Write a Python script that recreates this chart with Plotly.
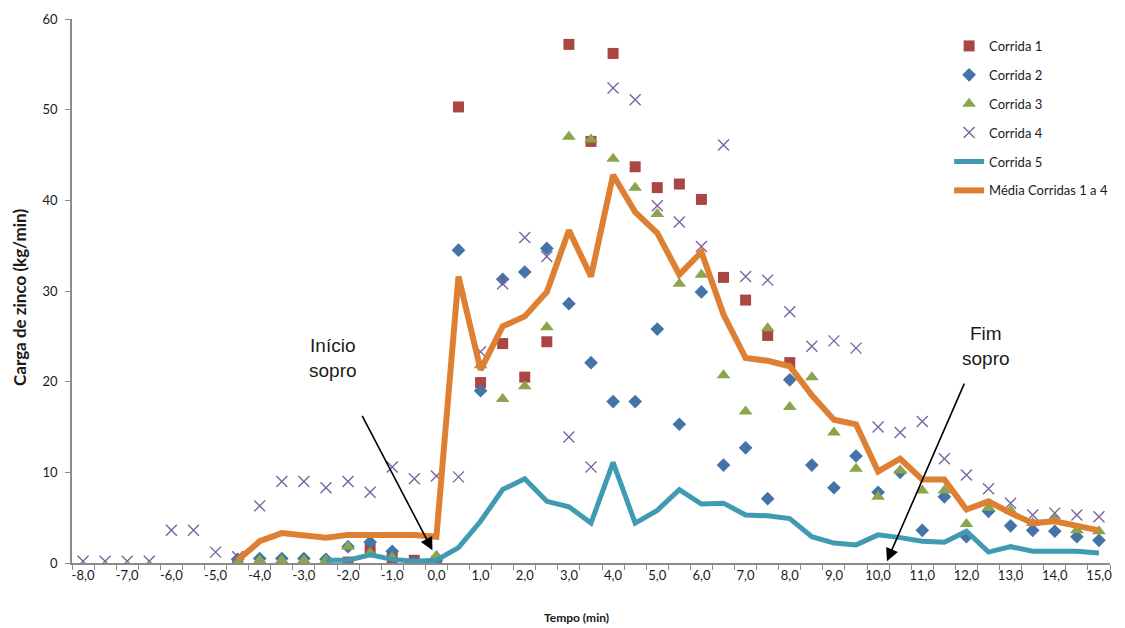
import plotly.graph_objects as go

# ---- data ----
t_c1 = [-2.0, -1.5, -1.0, -0.5, 0.0, 0.5, 1.0, 1.5, 2.0, 2.5, 3.0, 3.5, 4.0, 4.5, 5.0, 5.5, 6.0, 6.5, 7.0, 7.5, 8.0]
c1 = [0.1, 1.5, 0.6, 0.3, 0.2, 50.3, 19.9, 24.2, 20.5, 24.4, 57.2, 46.5, 56.2, 43.7, 41.4, 41.8, 40.1, 31.5, 29.0, 25.1, 22.1]

t_c2 = [-4.5, -4.0, -3.5, -3.0, -2.5, -2.0, -1.5, -1.0, -0.5, 0.0, 0.5, 1.0, 1.5, 2.0, 2.5, 3.0, 3.5, 4.0, 4.5,
        5.0, 5.5, 6.0, 6.5, 7.0, 7.5, 8.0, 8.5, 9.0, 9.5, 10.0, 10.5, 11.0, 11.5, 12.0, 12.5, 13.0, 13.5, 14.0, 14.5, 15.0]
c2 = [0.4, 0.5, 0.5, 0.5, 0.4, 1.8, 2.3, 1.3, 0.1, 0.3, 34.5, 19.0, 31.3, 32.1, 34.7, 28.6, 22.1, 17.8, 17.8,
      25.8, 15.3, 29.9, 10.8, 12.7, 7.1, 20.2, 10.8, 8.3, 11.8, 7.8, 10.0, 3.6, 7.3, 2.9, 5.7, 4.1, 3.6, 3.5, 2.9, 2.5]

t_c3 = [-4.5, -4.0, -3.5, -3.0, -2.5, -2.0, -1.5, -1.0, 0.0, 1.0, 1.5, 2.0, 2.5, 3.0, 3.5, 4.0, 4.5, 5.0, 5.5, 6.0,
        6.5, 7.0, 7.5, 8.0, 8.5, 9.0, 9.5, 10.0, 10.5, 11.0, 11.5, 12.0, 12.5, 13.0, 13.5, 14.0, 14.5, 15.0]
c3 = [0.2, 0.3, 0.3, 0.3, 0.3, 1.8, 1.1, 0.6, 0.8, 21.8, 18.1, 19.5, 26.0, 47.0, 46.7, 44.6, 41.4, 38.5, 30.8, 31.8,
      20.7, 16.7, 25.9, 17.2, 20.5, 14.4, 10.4, 7.3, 10.2, 8.0, 8.0, 4.3, 6.1, 5.8, 4.4, 4.9, 3.6, 3.5]

t_c4 = [-8.0, -7.5, -7.0, -6.5, -6.0, -5.5, -5.0, -4.5, -4.0, -3.5, -3.0, -2.5, -2.0, -1.5, -1.0, -0.5, 0.0, 0.5,
        1.0, 1.5, 2.0, 2.5, 3.0, 3.5, 4.0, 4.5, 5.0, 5.5, 6.0, 6.5, 7.0, 7.5, 8.0, 8.5, 9.0, 9.5, 10.0, 10.5,
        11.0, 11.5, 12.0, 12.5, 13.0, 13.5, 14.0, 14.5, 15.0]
c4 = [0.2, 0.2, 0.2, 0.2, 3.6, 3.6, 1.2, 0.7, 6.3, 9.0, 9.0, 8.3, 9.0, 7.8, 10.6, 9.3, 9.6, 9.5,
      23.3, 30.8, 35.9, 33.8, 13.9, 10.6, 52.4, 51.1, 39.4, 37.6, 34.9, 46.1, 31.6, 31.2, 27.7, 23.9, 24.5, 23.7, 15.0, 14.4,
      15.6, 11.5, 9.7, 8.2, 6.6, 5.3, 5.5, 5.3, 5.1]

t_c5 = [-2.5, -2.0, -1.5, -1.0, -0.5, 0.0, 0.5, 1.0, 1.5, 2.0, 2.5, 3.0, 3.5, 4.0, 4.5, 5.0, 5.5, 6.0, 6.5, 7.0,
        7.5, 8.0, 8.5, 9.0, 9.5, 10.0, 10.5, 11.0, 11.5, 12.0, 12.5, 13.0, 13.5, 14.0, 14.5, 15.0]
c5 = [0.3, 0.3, 0.9, 0.4, 0.2, 0.3, 1.7, 4.6, 8.1, 9.3, 6.8, 6.2, 4.4, 11.1, 4.4, 5.8, 8.1, 6.5, 6.6, 5.3,
      5.2, 4.9, 2.9, 2.2, 2.0, 3.1, 2.8, 2.4, 2.3, 3.5, 1.2, 1.8, 1.3, 1.3, 1.3, 1.1]

t_avg = [-4.5, -4.0, -3.5, -3.0, -2.5, -2.0, -1.5, -1.0, -0.5, 0.0, 0.5, 1.0, 1.5, 2.0, 2.5, 3.0, 3.5, 4.0, 4.5,
         5.0, 5.5, 6.0, 6.5, 7.0, 7.5, 8.0, 8.5, 9.0, 9.5, 10.0, 10.5, 11.0, 11.5, 12.0, 12.5, 13.0, 13.5, 14.0, 14.5, 15.0]
avg = [0.3, 2.4, 3.3, 3.1, 2.8, 3.1, 3.1, 3.0, 3.1, 2.9, 31.6, 21.3, 26.1, 27.2, 29.9, 36.7, 31.6, 42.8, 38.7,
       36.4, 31.8, 34.3, 27.4, 22.6, 22.3, 21.7, 18.5, 15.8, 15.3, 10.1, 11.5, 9.2, 9.2, 5.9, 6.8, 5.5, 4.4, 4.6, 4.1, 3.6]

x_tick_vals = list(range(-8, 16))
x_tick_text = [f"{v},0" for v in x_tick_vals]

names = ["Corrida 1", "Corrida 2", "Corrida 3", "Corrida 4", "Corrida 5", "Média Corridas 1 a 4"]

FONT = "Lato, 'Open Sans', sans-serif"

fig = go.Figure()
fig.add_trace(go.Scatter(x=t_c1, y=c1, mode="markers", name=names[0], legendgroup="g1",
                         marker=dict(symbol="square", size=11, color="#AA4643")))
fig.add_trace(go.Scatter(x=t_c2, y=c2, mode="markers", name=names[1], legendgroup="g2",
                         marker=dict(symbol="diamond", size=10.5, color="#4572A7")))
fig.add_trace(go.Scatter(x=t_c3, y=c3, mode="markers", name=names[2], legendgroup="g3",
                         marker=dict(symbol="triangle-up", size=12, color="#89A54E")))
fig.add_trace(go.Scatter(x=t_c4, y=c4, mode="markers", name=names[3], legendgroup="g4",
                         marker=dict(symbol="x-thin", size=11, color="#7D63A0",
                                     line=dict(width=1.4, color="#7D63A0"))))
fig.add_trace(go.Scatter(x=t_c5, y=c5, mode="lines", name=names[4], legendgroup="g5",
                         line=dict(color="#3F9AB2", width=5)))
fig.add_trace(go.Scatter(x=t_avg, y=avg, mode="lines", name=names[5], legendgroup="g6",
                         line=dict(color="#DE8033", width=6)))

axis_col = "#8C8C8C"
fig.update_layout(
    width=1125, height=628,
    margin=dict(l=72, r=15, t=19, b=65),
    paper_bgcolor="white", plot_bgcolor="white",
    font=dict(family=FONT, size=13, color="#1a1a1a"),
    showlegend=True,
    legend=dict(x=0.845, y=0.978, xanchor="left", yanchor="top",
                traceorder="grouped", tracegroupgap=9,
                font=dict(family=FONT, size=13, color="#1a1a1a"),
                bgcolor="rgba(0,0,0,0)"),
    xaxis=dict(range=[-8.25, 15.25], tickmode="array", tickvals=x_tick_vals, ticktext=x_tick_text,
               automargin=False,
               ticks="", showgrid=False, zeroline=False, showline=True, linecolor=axis_col, linewidth=1.5,
               tickfont=dict(family=FONT, size=13, color="#1a1a1a"),
               minor=dict(ticks="outside", tick0=-8.25, dtick=0.5, ticklen=5, tickcolor=axis_col,
                          tickwidth=1, showgrid=False)),
    yaxis=dict(range=[0, 60], dtick=10, ticks="outside", ticklen=5, tickcolor=axis_col,
               ticklabelstandoff=5, automargin=False,
               showgrid=False, zeroline=False, showline=True, linecolor=axis_col, linewidth=1.5,
               tickfont=dict(family=FONT, size=13, color="#1a1a1a")),
)

annotations = [
    dict(text="<b>Tempo (min)</b>", xref="paper", yref="paper", x=0.4865, y=-0.101,
         showarrow=False, font=dict(family=FONT, size=12, color="#1a1a1a"), xanchor="center", yanchor="middle"),
    dict(text="<b>Carga de zinco (kg/min)</b>", xref="paper", yref="paper", x=-0.0501, y=0.489,
         textangle=-90, showarrow=False, font=dict(family=FONT, size=17, color="#1a1a1a"),
         xanchor="center", yanchor="middle"),
    dict(text="Início<br>sopro", x=-2.34, y=22.6, xref="x", yref="y", showarrow=False,
         font=dict(family="Liberation Sans, Arial", size=19, color="#1a1a1a"), align="center"),
    dict(text="", x=-0.09, y=1.4, xref="x", yref="y", ax=-71, ay=-136, showarrow=True,
         arrowhead=2, arrowsize=1.6, arrowwidth=1.6, arrowcolor="black", standoff=0),
    dict(text="Fim<br>sopro", x=12.45, y=23.9, xref="x", yref="y", showarrow=False,
         font=dict(family="Liberation Sans, Arial", size=19, color="#1a1a1a"), align="center"),
    dict(text="", x=10.2, y=0.2, xref="x", yref="y", ax=78, ay=-179, showarrow=True,
         arrowhead=2, arrowsize=1.6, arrowwidth=1.6, arrowcolor="black", standoff=0),
]
fig.update_layout(annotations=annotations)

fig.write_html("out.html")
